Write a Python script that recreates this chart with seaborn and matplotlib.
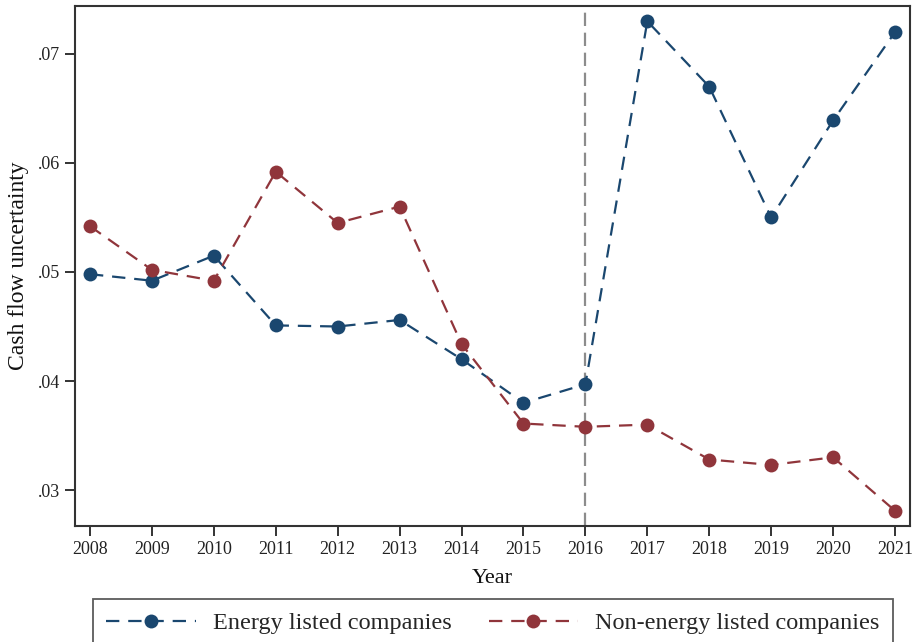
import matplotlib
matplotlib.use("Agg")
import matplotlib.pyplot as plt
import seaborn as sns
import pandas as pd
from matplotlib.ticker import FuncFormatter

years = list(range(2008, 2022))
energy = [0.0498, 0.0492, 0.0515, 0.0451, 0.0450, 0.0456, 0.0420,
          0.0380, 0.0397, 0.0730, 0.0670, 0.0550, 0.0639, 0.0720]
non_energy = [0.0542, 0.0502, 0.0492, 0.0592, 0.0545, 0.0560, 0.0434,
              0.0361, 0.0358, 0.0360, 0.0328, 0.0323, 0.0330, 0.0281]
series_names = ["Energy listed companies", "Non-energy listed companies"]
y_ticks = [0.03, 0.04, 0.05, 0.06, 0.07]
policy_year = 2016

df = pd.DataFrame({
    "Year": years * 2,
    "value": energy + non_energy,
    "group": [series_names[0]] * len(years) + [series_names[1]] * len(years),
})

sns.set_theme(style="white")
plt.rcParams["font.family"] = ["Liberation Serif", "DejaVu Serif"]

navy = "#1a476f"
maroon = "#90353b"

fig = plt.figure(figsize=(9.16, 6.42), dpi=100)
ax = fig.add_axes([75 / 916, 1 - 526 / 642, 835 / 916, 520 / 642])

sns.lineplot(data=df, x="Year", y="value", hue="group",
             palette={series_names[0]: navy, series_names[1]: maroon},
             marker="o", markersize=10, markeredgewidth=0, linewidth=1.6,
             ax=ax, legend=False)
for line in ax.lines:
    line.set_dashes([6, 4])

ax.axvline(policy_year, color="#8c8c8c", linewidth=1.6, dashes=(6, 3), zorder=0)

ax.set_xlim(2007.758, 2021.242)
ax.set_ylim(0.0267, 0.0744)
ax.set_xticks(years)
ax.set_yticks(y_ticks)
ax.yaxis.set_major_formatter(FuncFormatter(lambda v, p: f"{v:.2f}".lstrip("0")))
ax.tick_params(axis="both", which="major", direction="out", length=7, width=1.4,
               color="#333333", labelsize=13, labelcolor="#222222", pad=4,
               bottom=True, left=True)
ax.set_xlabel("Year", fontsize=16, color="#111111", labelpad=8)
ax.set_ylabel("Cash flow uncertainty", fontsize=17, color="#111111", labelpad=6)
for sp in ax.spines.values():
    sp.set_color("#333333")
    sp.set_linewidth(1.5)

handles = [
    plt.Line2D([], [], color=navy, marker="o", markersize=10, markeredgewidth=0,
               linewidth=1.6, dashes=[6, 4]),
    plt.Line2D([], [], color=maroon, marker="o", markersize=10, markeredgewidth=0,
               linewidth=1.6, dashes=[6, 4]),
]
leg = fig.legend(handles, series_names, loc="upper left",
                 bbox_to_anchor=(93 / 916, 1 - 599 / 642),
                 ncol=2, fontsize=17.5, frameon=True,
                 fancybox=False, handlelength=3.7, handletextpad=0.7,
                 columnspacing=1.5, borderaxespad=0, borderpad=0.55)
leg.get_frame().set_edgecolor("#333333")
leg.get_frame().set_linewidth(1.3)

fig.savefig("out.png", dpi=100)
